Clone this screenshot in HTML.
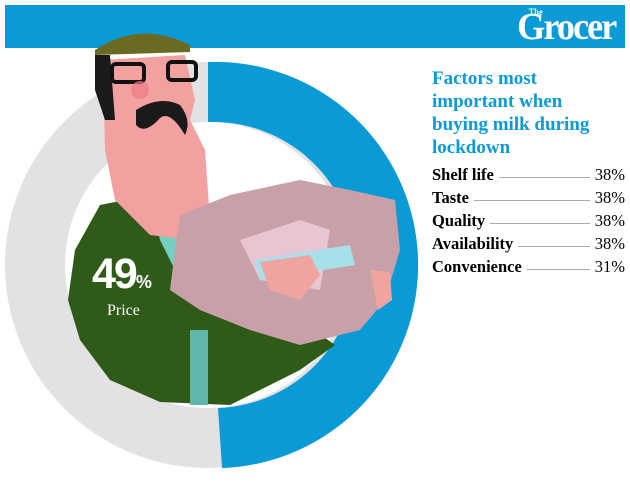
<!DOCTYPE html>
<html><head><style>
body{margin:0;width:630px;height:484px;background:#fff;overflow:hidden;position:relative;font-family:"Liberation Serif",serif}
.hdr{position:absolute;left:5px;top:5px;width:620px;height:43px;background:#0a9ad6}
.logo{position:absolute;right:10px;top:0px;color:#fff;font-weight:bold;font-size:38px;letter-spacing:-2px;transform:scaleX(0.95);transform-origin:right}
.logo small{position:absolute;left:12px;top:2px;font-size:9px;letter-spacing:0}
.title{position:absolute;left:432px;top:67px;color:#0a9ad6;font-weight:bold;font-size:19px;line-height:23px;width:170px}
.row{position:absolute;left:432px;width:193px;height:22px;font-size:16.5px;display:flex;align-items:baseline}
.row b{white-space:nowrap}
.row .l{flex:1;border-bottom:1px solid #aaa;margin:0 5px;height:0;position:relative;top:-2px}
</style></head><body>
<div class="hdr"><div class="logo"><small>The</small>Grocer</div></div>
<svg style="position:absolute;left:0;top:0" width="630" height="484">
<circle cx="208" cy="265" r="173" fill="none" stroke="#e2e2e4" stroke-width="60"/>
<path d="M208 62 A203 203 0 0 1 222 468 L218 408 A143 143 0 0 0 208 122 Z" fill="#0a9ad6"/>
<path d="M100 205 L150 195 L175 230 L240 240 L300 320 L335 345 L300 370 L260 390 L230 405 L160 402 L110 380 L80 340 L68 300 L75 250 Z" fill="#2f5a18"/>
<path d="M150 195 L175 230 L200 240 L180 280 L160 240 Z" fill="#74cfc2"/>
<rect x="190" y="330" width="18" height="75" fill="#5fb6aa"/>
<path d="M103 60 L185 55 L195 100 L190 120 L205 150 L210 220 L190 240 L150 235 L115 200 L105 150 Z" fill="#f2a0a0"/>
<path d="M95 50 Q140 20 190 45 L190 52 L95 55 Z" fill="#6b6a22"/>
<path d="M95 55 L110 55 L115 120 L105 120 L95 90 Z" fill="#1a1a1a"/>
<path d="M136 110 Q160 95 180 105 Q192 120 185 135 Q170 110 160 118 Q145 135 136 125 Z" fill="#1a1a1a"/>
<rect x="112" y="64" width="32" height="18" rx="4" fill="none" stroke="#111" stroke-width="4"/>
<rect x="168" y="62" width="28" height="18" rx="4" fill="none" stroke="#111" stroke-width="4"/>
<circle cx="140" cy="90" r="9" fill="#f07a86" opacity=".7"/>
<path d="M180 215 L230 195 L300 180 L350 190 L395 200 L400 250 L385 300 L360 330 L300 345 L250 330 L200 310 L170 290 L175 250 Z" fill="#c8a0a8"/>
<path d="M240 240 L300 220 L330 230 L320 290 L260 280 Z" fill="#e7c6d2"/>
<path d="M255 260 L350 245 L355 265 L260 280 Z" fill="#a8e0ea"/>
<path d="M260 262 L310 255 L320 275 L300 300 L270 290 Z" fill="#f0a4a0"/>
<path d="M370 270 L390 272 L392 300 L378 310 Z" fill="#f0a4a0"/>
</svg>
<div style="position:absolute;left:92px;top:250px;color:#fff;font-weight:bold;font-size:43px;font-family:'Liberation Sans',sans-serif;letter-spacing:-2px">49<span style="font-size:18px;letter-spacing:0">%</span></div>
<div style="position:absolute;left:107px;top:302px;color:#fff;font-size:16px">Price</div>
<div class="title">Factors most important when buying milk during lockdown</div>
<div class="row" style="top:165px"><b>Shelf life</b><div class="l"></div><span>38%</span></div>
<div class="row" style="top:188px"><b>Taste</b><div class="l"></div><span>38%</span></div>
<div class="row" style="top:211px"><b>Quality</b><div class="l"></div><span>38%</span></div>
<div class="row" style="top:234px"><b>Availability</b><div class="l"></div><span>38%</span></div>
<div class="row" style="top:257px"><b>Convenience</b><div class="l"></div><span>31%</span></div>
</body></html>
